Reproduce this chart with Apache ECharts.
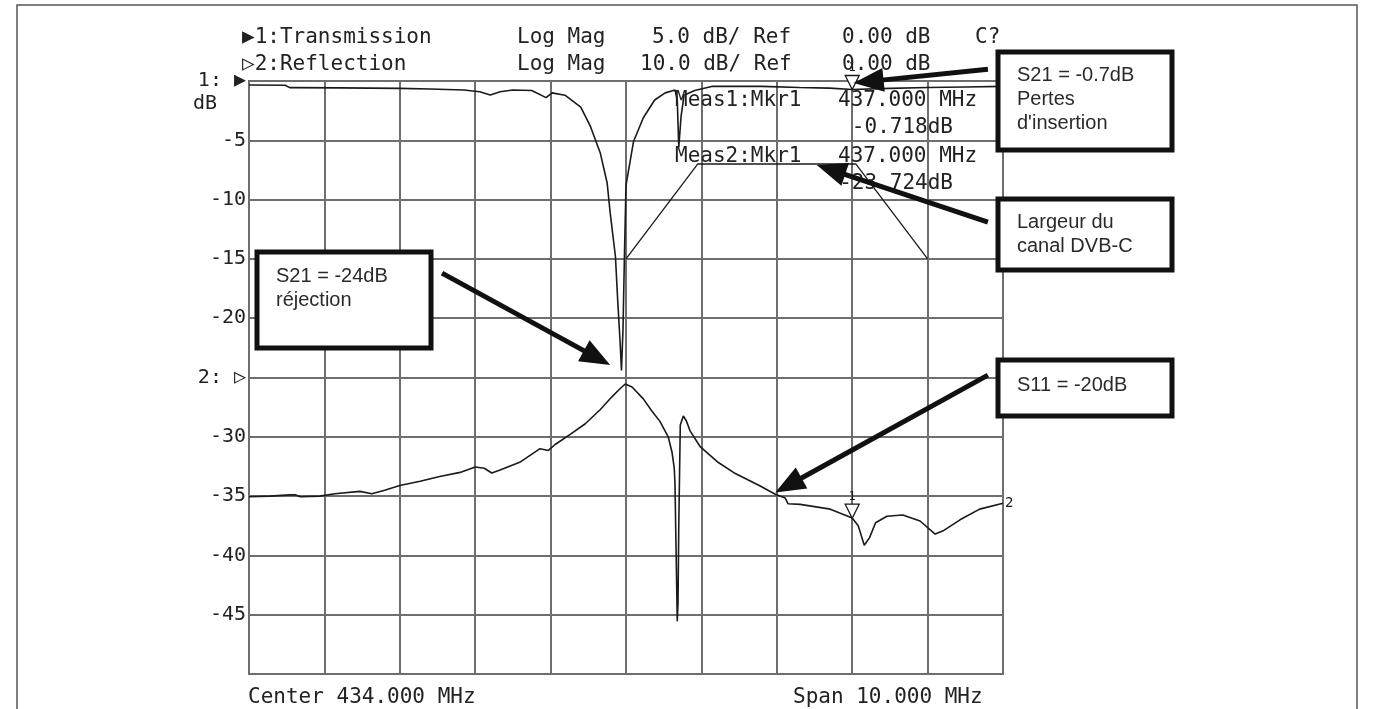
<!DOCTYPE html>
<html><head><meta charset="utf-8">
<script src="https://cdn.jsdelivr.net/npm/echarts@6/dist/echarts.min.js"></script>
<style>html,body{margin:0;padding:0;background:#fff}#c{width:1373px;height:709px}</style>
</head><body><div id="c"></div>
<script>
// ---- data (MHz, dB) ----
const transFreq = [429.00,429.48,429.54,430.20,431.00,431.40,431.85,432.06,432.20,432.33,432.50,432.75,432.94,433.02,433.19,433.40,433.53,433.66,433.75,433.79,433.86,433.89,433.92,433.94,433.96,433.98,434.00,434.10,434.23,434.38,434.52,434.65,434.68,434.70,434.73,434.77,434.91,435.15,435.80,436.30,436.70,437.00,437.50,438.00,438.50,439.00];
const transDb   = [-0.34,-0.36,-0.56,-0.58,-0.62,-0.67,-0.76,-0.90,-1.18,-0.90,-0.76,-0.80,-1.40,-1.00,-1.20,-2.20,-3.85,-6.10,-8.60,-11.1,-14.8,-18.5,-21.8,-24.4,-21.0,-14.5,-8.8,-5.1,-3.1,-1.6,-1.0,-0.76,-1.6,-5.6,-3.0,-1.2,-0.8,-0.45,-0.45,-0.55,-0.60,-0.72,-0.62,-0.55,-0.50,-0.45];
const reflFreq  = [429.00,429.28,429.54,429.62,429.68,429.94,430.14,430.47,430.63,430.80,431.00,431.27,431.53,431.80,432.00,432.12,432.22,432.33,432.59,432.86,432.97,433.06,433.26,433.46,433.66,433.81,433.92,433.99,434.08,434.23,434.34,434.45,434.56,434.61,434.64,434.65,434.66,434.68,434.69,434.70,434.72,434.76,434.80,434.85,434.98,435.21,435.45,435.78,435.98,436.11,436.15,436.31,436.71,437.00,437.08,437.16,437.23,437.31,437.46,437.67,437.90,438.10,438.20,438.43,438.69,439.00];
const reflDb    = [-20.1,-20.0,-19.8,-19.8,-20.1,-20.0,-19.6,-19.2,-19.6,-19.0,-18.2,-17.5,-16.7,-16.0,-15.1,-15.3,-16.1,-15.6,-14.3,-12.0,-12.3,-11.3,-9.6,-7.8,-5.4,-3.3,-1.9,-1.1,-1.6,-3.6,-5.6,-7.4,-10.0,-12.6,-15.3,-18.0,-26.0,-41.1,-38.0,-25.0,-8.0,-6.5,-7.3,-9.0,-11.6,-14.2,-16.2,-18.3,-19.7,-20.3,-21.3,-21.4,-22.2,-23.7,-25.0,-28.3,-27.0,-24.5,-23.4,-23.2,-24.2,-26.4,-25.9,-24.0,-22.2,-21.2];
const maskFreq  = [434.00,434.95,437.05,438.00];
const maskDb    = [-15,-7,-7,-15];
const markerFreq = 437.0;
const markerTransDb = -0.718;
const markerReflDb = -23.724;
const yTickValues = [0,-5,-10,-15,-20,-25,-30,-35,-40,-45,-50];
const yTickLabels = ['1: ▶','-5','-10','-15','-20','2: ▷','-30','-35','-40','-45',''];
const headerRow1 = ['▶1:Transmission','Log Mag','5.0 dB/ Ref','0.00 dB','C?'];
const headerRow2 = ['▷2:Reflection','Log Mag','10.0 dB/ Ref','0.00 dB'];
const footerTexts = ['Center 434.000 MHz','Span 10.000 MHz'];
const meas1 = ['Meas1:Mkr1','437.000 MHz','-0.718dB'];
const meas2 = ['Meas2:Mkr1','437.000 MHz','-23.724dB'];
const boxTexts = [
  ['S21 = -0.7dB','Pertes',"d'insertion"],
  ['Largeur du','canal DVB-C'],
  ['S21 = -24dB','réjection'],
  ['S11 = -20dB']
];
// arrow endpoints in (MHz, trace-1 dB)
const arrowFrom = [[438.80,1.0],[438.80,-11.9],[431.56,-16.2],[438.80,-24.8]];
const arrowTo   = [[437.02,-0.17],[436.53,-7.08],[433.79,-23.95],[435.98,-34.7]];

const MONO = '"DejaVu Sans Mono", monospace';
const SANS = '"Liberation Sans", Arial, sans-serif';
const INK = '#1a1a1a';
const GRIDC = '#6e6e6e';

const chart = echarts.init(document.getElementById('c'), null, {renderer:'canvas'});
const pair = (xs, ys) => xs.map((x,i)=>[x, ys[i]]);

const triPath = 'path://M0,0 L10,0 L5,10 Z';
function marker(val){
  return {
    symbol: triPath, symbolSize:[14,14], symbolOffset:[0,'-50%'],
    itemStyle:{color:'#fff', borderColor:INK, borderWidth:1.3},
    label:{show:true, position:'top', formatter:'1', color:INK, fontSize:12, fontFamily:MONO, distance:1},
    data:[{coord:[markerFreq, val]}]
  };
}

chart.setOption({
  animation:false,
  backgroundColor:'#fff',
  grid:{left:249, top:81, right:370, bottom:35, show:true, borderColor:GRIDC, borderWidth:2},
  xAxis:{type:'value', min:429, max:439, interval:1,
    axisLabel:{show:false}, axisTick:{show:false},
    axisLine:{show:true, lineStyle:{color:GRIDC, width:2}},
    splitLine:{show:true, lineStyle:{color:GRIDC, width:2}}},
  yAxis:[
    {type:'value', min:-50, max:0, interval:5,
      axisTick:{show:false},
      axisLine:{show:true, lineStyle:{color:GRIDC, width:2}},
      splitLine:{show:true, lineStyle:{color:GRIDC, width:2}},
      axisLabel:{show:true, margin:3, color:'#222', fontFamily:MONO, fontSize:20,
        formatter:v=>{const i=yTickValues.indexOf(v); return i>=0?yTickLabels[i]:'';}}},
    {type:'value', min:-50, max:50, interval:10, show:false}
  ],
  series:[
    {name:'Transmission', type:'line', yAxisIndex:0, showSymbol:false, symbol:'none',
      data:pair(transFreq, transDb), lineStyle:{color:INK, width:1.6},
      markPoint:marker(markerTransDb), z:3},
    {name:'Reflection', type:'line', yAxisIndex:1, showSymbol:false, symbol:'none',
      data:pair(reflFreq, reflDb), lineStyle:{color:INK, width:1.6},
      endLabel:{show:true, formatter:'2', color:INK, fontSize:14, fontFamily:MONO, distance:2},
      markPoint:marker(markerReflDb), z:3},
    {name:'Mask', type:'line', yAxisIndex:0, showSymbol:false, symbol:'none',
      data:pair(maskFreq, maskDb), lineStyle:{color:INK, width:1.3}, z:3}
  ]
});

// ---- annotations ----
const g = [];
function txt(s, x, y, font, align){
  g.push({type:'text', z:50, style:{text:s, x:x, y:y, font:font, fill:'#222',
    align:align||'left', verticalAlign:'middle', textAlign:align||'left', textVerticalAlign:'middle'}});
}
// page frame
g.push({type:'rect', z:1, shape:{x:17,y:5,width:1340,height:740}, style:{fill:'none', stroke:'#555', lineWidth:1.5}});
// header
const F = '21px ' + MONO;
const h1x = [242,517,652,842,975];
headerRow1.forEach((s,i)=>txt(s,h1x[i],38,F));
const h2x = [242,517,640,842];
headerRow2.forEach((s,i)=>txt(s,h2x[i],65,F));
txt('dB',193,104,'20px '+MONO);
txt(footerTexts[0],248,698,F);
txt(footerTexts[1],793,698,F);
// measurement readouts
txt(meas1[0],675,101,F); txt(meas1[1],838,101,F); txt(meas1[2],953,128,F,'right');
txt(meas2[0],675,157,F); txt(meas2[1],838,157,F); txt(meas2[2],953,184,F,'right');

// arrows
arrowFrom.forEach((a,i)=>{
  const p0 = chart.convertToPixel({xAxisIndex:0,yAxisIndex:0}, a);
  const p1 = chart.convertToPixel({xAxisIndex:0,yAxisIndex:0}, arrowTo[i]);
  const dx=p1[0]-p0[0], dy=p1[1]-p0[1], L=Math.hypot(dx,dy);
  const ux=dx/L, uy=dy/L, hl=30, hw=12;
  const bx=p1[0]-ux*hl, by=p1[1]-uy*hl;
  g.push({type:'line', z:60, shape:{x1:p0[0],y1:p0[1],x2:bx+ux*2,y2:by+uy*2}, style:{stroke:'#111', lineWidth:5}});
  g.push({type:'polygon', z:60, shape:{points:[[p1[0],p1[1]],[bx-uy*hw,by+ux*hw],[bx+uy*hw,by-ux*hw]]}, style:{fill:'#111'}});
});

// boxes
const boxes = [[998,52,174,98],[998,199,174,71],[257,252,174,96],[998,360,174,56]];
const boxLineY = [[75,99,123],[222,246],[276,300],[385]];
boxes.forEach((b,i)=>{
  g.push({type:'rect', z:70, shape:{x:b[0],y:b[1],width:b[2],height:b[3]}, style:{fill:'#fff', stroke:'#111', lineWidth:5}});
  boxTexts[i].forEach((s,j)=>{
    g.push({type:'text', z:71, style:{text:s, x:b[0]+19, y:boxLineY[i][j], font:'20px '+SANS, fill:'#2a2a2a',
      align:'left', verticalAlign:'middle', textAlign:'left', textVerticalAlign:'middle'}});
  });
});
chart.setOption({graphic:{elements:g}});
</script>
</body></html>
